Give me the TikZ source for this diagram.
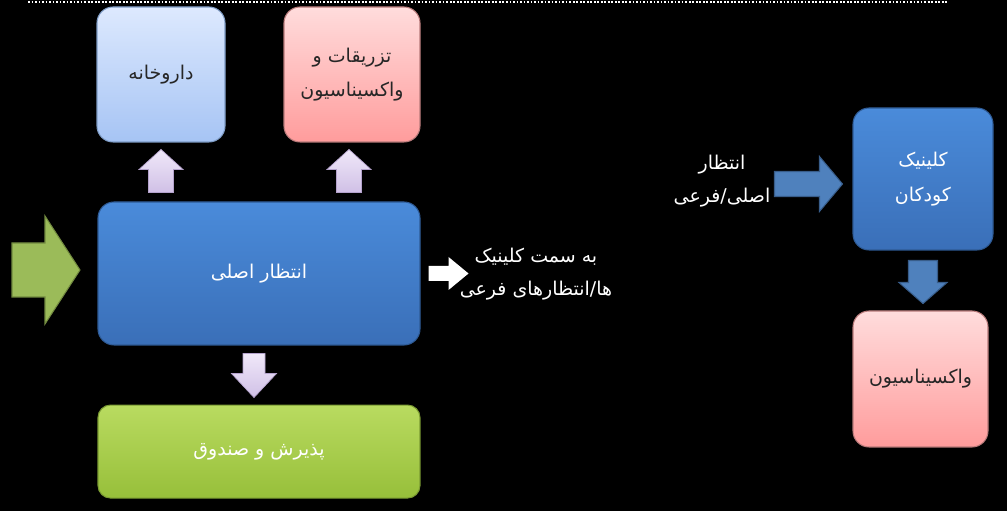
\documentclass[tikz,border=0pt]{standalone}
\usepackage{fontspec}
\usepackage{tikz}
\usetikzlibrary{positioning, calc}
\newfontfamily\farsi[Script=Arabic]{DejaVu Sans}
\TeXXeTstate=1

\definecolor{pharmtop}{HTML}{DDE9FE}
\definecolor{pharmbot}{HTML}{A6C4F4}
\definecolor{pharmline}{HTML}{7E9CC6}
\definecolor{pinktop}{HTML}{FFDCDC}
\definecolor{pinkbot}{HTML}{FF9C9C}
\definecolor{pinkline}{HTML}{B87A7A}
\definecolor{bluetop}{HTML}{4A8BDA}
\definecolor{bluebot}{HTML}{3A6FB8}
\definecolor{blueline}{HTML}{2E5A94}
\definecolor{greentop}{HTML}{B9DB60}
\definecolor{greenbot}{HTML}{97BF3A}
\definecolor{greenline}{HTML}{7A9A32}
\definecolor{entryfill}{HTML}{9BBB59}
\definecolor{entryline}{HTML}{71893F}
\definecolor{lavtop}{HTML}{F0E8F9}
\definecolor{lavbot}{HTML}{D0C0E6}
\definecolor{lavline}{HTML}{B4A2CC}
\definecolor{arrblue}{HTML}{4F81BD}
\definecolor{arrline}{HTML}{385D8A}

\tikzset{
  box/.style={rounded corners=0.32cm, line width=0.6pt, align=center,
    font=\farsi\fontsize{10.8}{19.5}\selectfont},
  lightbox/.style={box, draw=pharmline, top color=pharmtop, bottom color=pharmbot, text=black!85},
  pinkbox/.style={box, draw=pinkline, top color=pinktop, bottom color=pinkbot, text=black!85},
  bluebox/.style={box, draw=blueline, top color=bluetop, bottom color=bluebot, text=white},
  greenbox/.style={box, draw=greenline, top color=greentop, bottom color=greenbot, text=white},
  lbl/.style={align=center, text=white, font=\farsi\fontsize{10.8}{18.5}\selectfont},
  entryarr/.style={draw=entryline, fill=entryfill, line width=0.6pt},
  lavarr/.style={draw=lavline, top color=lavtop, bottom color=lavbot, line width=0.4pt},
  bluearr/.style={draw=arrline, fill=arrblue, line width=0.6pt},
  whitearr/.style={fill=white}
}

% style, base, angle, length, shaft half width, head half width, head length
\newcommand{\blockarrow}[7]{%
  \path[#1, shift={#2}, rotate=#3] (0,-#5) -- ({#4-#7},-#5) -- ({#4-#7},-#6) -- (#4,0)
    -- ({#4-#7},#6) -- ({#4-#7},#5) -- (0,#5) -- cycle;}

\begin{document}
\begin{tikzpicture}

\fill[black] (0,0) rectangle (20.14,10.22);
\useasboundingbox (0,0) rectangle (20.14,10.22);

\draw[white, line width=1pt, dash pattern=on 1pt off 1pt] (0.56,10.18) -- (18.94,10.18);

\node[lightbox, minimum width=2.56cm, minimum height=2.70cm] (pharm) at (3.22,8.73) {\beginR داروخانه\endR};
\node[pinkbox, minimum width=2.72cm, minimum height=2.70cm] (inject) at (7.04,8.73) {\beginR تزریقات و\endR\\\beginR واکسیناسیون\endR};
\node[bluebox, minimum width=6.44cm, minimum height=2.86cm] (main) at (5.18,4.75) {\beginR انتظار اصلی\endR};
\node[greenbox, rounded corners=0.25cm, minimum width=6.44cm, minimum height=1.86cm, below=1.18cm of main] (pay) {\beginR پذیرش و صندوق\endR};

\node[lbl] (tosub) at (10.72,4.74) {\beginR به سمت کلینیک\endR\\\beginR ها/انتظارهای فرعی\endR};

\node[bluebox, minimum width=2.80cm, minimum height=2.84cm] (clinic) at (18.46,6.64) {\beginR کلینیک\endR\\\beginR کودکان\endR};
\node[pinkbox, minimum width=2.70cm, minimum height=2.72cm] (vacc) at (18.41,2.64) {\beginR واکسیناسیون\endR};
\node[lbl] (wait) at (14.44,6.60) {\beginR انتظار\endR\\\beginR اصلی/فرعی\endR};

\coordinate (entry) at (0.24,4.82);

% arrows
\blockarrow{entryarr}{(entry)}{0}{1.36}{0.54}{1.08}{0.70}
\blockarrow{lavarr}{($(pharm.south |- main.north)+(0,0.18)$)}{90}{0.86}{0.25}{0.44}{0.40}
\blockarrow{lavarr}{($(inject.south |- main.north)+(-0.06,0.18)$)}{90}{0.86}{0.25}{0.44}{0.40}
\blockarrow{lavarr}{($(main.south)+(-0.10,-0.16)$)}{-90}{0.88}{0.22}{0.45}{0.48}
\blockarrow{whitearr}{($(main.east)+(0.16,0)$)}{0}{0.80}{0.15}{0.33}{0.40}
\blockarrow{bluearr}{($(clinic.west)+(-1.56,-0.10)$)}{0}{1.36}{0.25}{0.55}{0.46}
\blockarrow{bluearr}{($(clinic.south)+(0,-0.20)$)}{-90}{0.86}{0.29}{0.48}{0.42}

\end{tikzpicture}
\end{document}
